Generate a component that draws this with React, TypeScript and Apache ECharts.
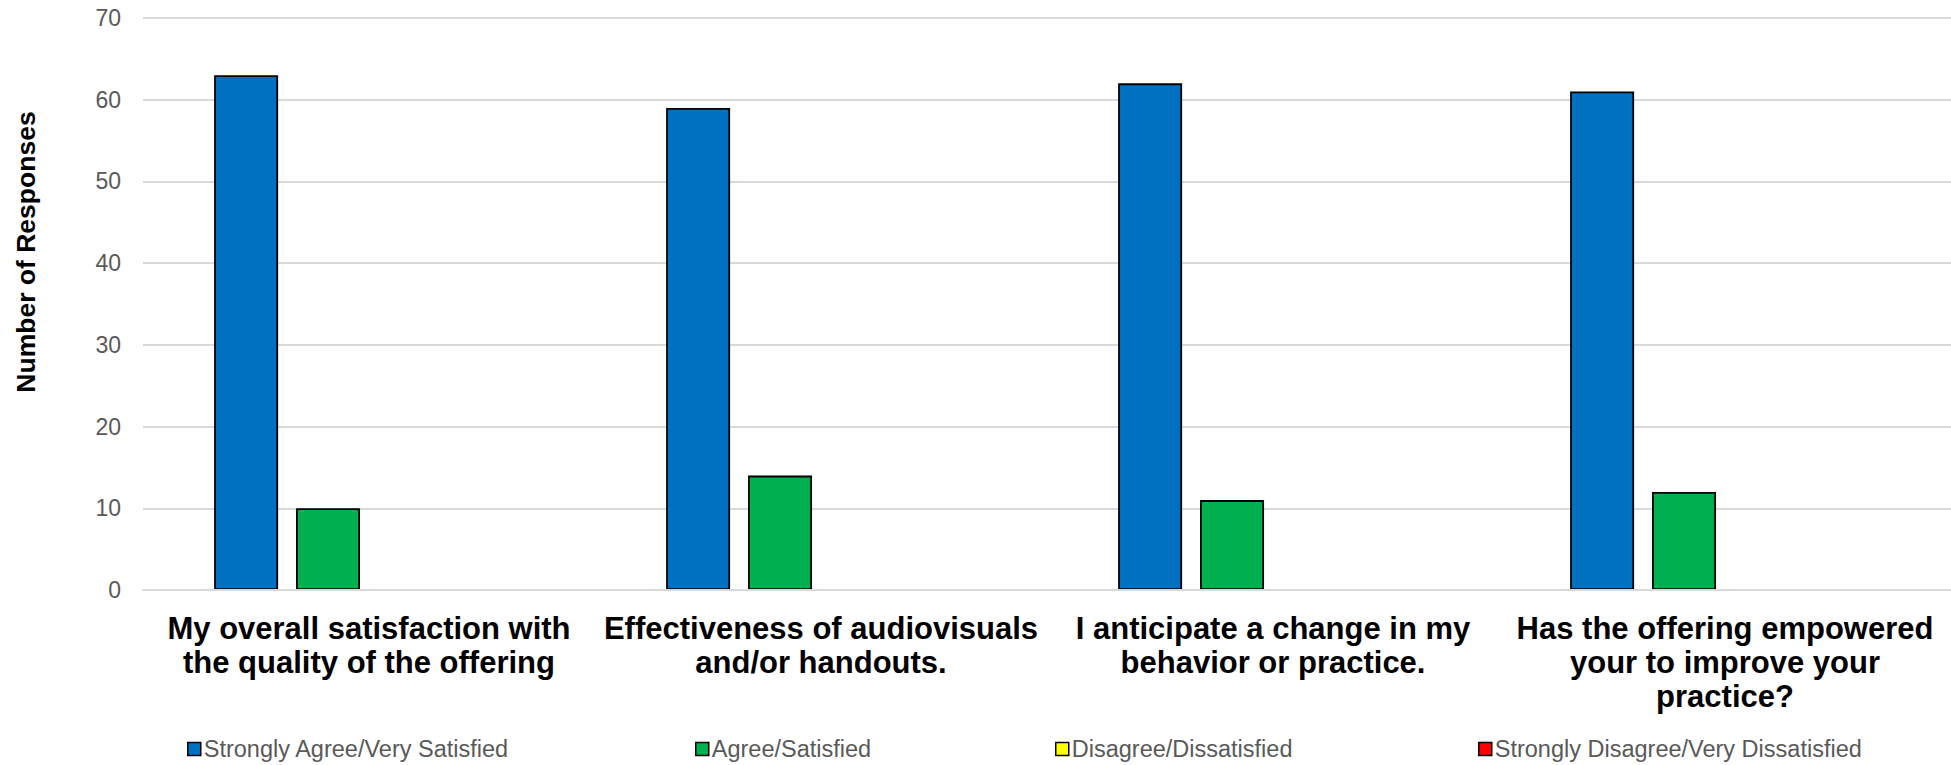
import React, { useEffect, useRef } from "react";
import * as echarts from "echarts";

// Survey questions (x categories), wrapped the way they are printed under the bars
const categories: string[] = [
  "My overall satisfaction with\nthe quality of the offering",
  "Effectiveness of audiovisuals\nand/or handouts.",
  "I anticipate a change in my\nbehavior or practice.",
  "Has the offering empowered\nyour to improve your\npractice?",
];

// Response options
const seriesNames: string[] = [
  "Strongly Agree/Very Satisfied",
  "Agree/Satisfied",
  "Disagree/Dissatisfied",
  "Strongly Disagree/Very Dissatisfied",
];

// Number of responses per option, one value per question
const stronglyAgree: number[] = [63, 59, 62, 61];
const agree: number[] = [10, 14, 11, 12];
const disagree: number[] = [0, 0, 0, 0];
const stronglyDisagree: number[] = [0, 0, 0, 0];

// Y axis scale
const yMin = 0;
const yMax = 70;
const yStep = 10;

const seriesValues: number[][] = [stronglyAgree, agree, disagree, stronglyDisagree];
const seriesColors: string[] = ["#0070C0", "#00B050", "#FFFF00", "#FF0000"];
const legendLefts: number[] = [187, 695, 1055, 1478];

const FONT = "'Liberation Sans', Arial, Helvetica, sans-serif";

export default function App() {
  const ref = useRef<HTMLDivElement>(null);

  useEffect(() => {
    if (!ref.current) return;
    const chart = echarts.init(ref.current, null, { renderer: "svg" });

    const series = seriesNames.map((name, i) => ({
      name,
      type: "bar" as const,
      barWidth: 64,
      barGap: "28%",
      itemStyle: {
        color: seriesColors[i],
        borderColor: "#000000",
        borderWidth: 1.8,
      },
      // a zero count draws no bar at all (no stray outline on the baseline)
      data: seriesValues[i].map((v) =>
        v === 0 ? { value: v, itemStyle: { borderWidth: 0 } } : v
      ),
    }));

    const legends = seriesNames.map((name, i) => ({
      data: [name],
      left: legendLefts[i],
      top: 737,
      padding: 0,
      icon: "rect",
      itemWidth: 13,
      itemHeight: 13,
      itemGap: 0,
      selectedMode: false,
      itemStyle: { borderColor: "#000000", borderWidth: 1.5 },
      textStyle: {
        fontFamily: FONT,
        fontSize: 23.5,
        lineHeight: 24,
        color: "#595959",
        padding: [0, 0, 0, -2],
      },
    }));

    chart.setOption({
      animation: false,
      backgroundColor: "#ffffff",
      textStyle: { fontFamily: FONT },
      grid: { left: 143, right: 0, top: 18, bottom: 175, containLabel: false },
      legend: legends,
      xAxis: {
        type: "category",
        data: categories,
        z: 3,
        axisTick: { show: false },
        axisLine: { show: true, lineStyle: { color: "#D9D9D9", width: 2 } },
        axisLabel: {
          interval: 0,
          margin: 21,
          fontFamily: FONT,
          fontSize: 31,
          fontWeight: "bold",
          color: "#000000",
          lineHeight: 34,
          align: "center",
        },
      },
      yAxis: {
        type: "value",
        min: yMin,
        max: yMax,
        interval: yStep,
        axisLine: { show: false },
        axisTick: { show: false },
        splitLine: { lineStyle: { color: "#D9D9D9", width: 2 } },
        axisLabel: {
          margin: 22,
          fontFamily: FONT,
          fontSize: 23,
          color: "#595959",
        },
      },
      graphic: [
        {
          type: "text",
          x: 25.5,
          y: 252,
          rotation: Math.PI / 2,
          style: {
            text: "Number of Responses",
            fontFamily: FONT,
            fontSize: 26.5,
            fontWeight: "bold",
            fill: "#000000",
            textAlign: "center",
            textVerticalAlign: "middle",
          },
        },
      ],
      series,
    });

    return () => {
      chart.dispose();
    };
  }, []);

  return (
    <div
      ref={ref}
      style={{
        position: "fixed",
        left: 0,
        top: 0,
        width: 1951,
        height: 765,
        background: "#ffffff",
      }}
    />
  );
}
